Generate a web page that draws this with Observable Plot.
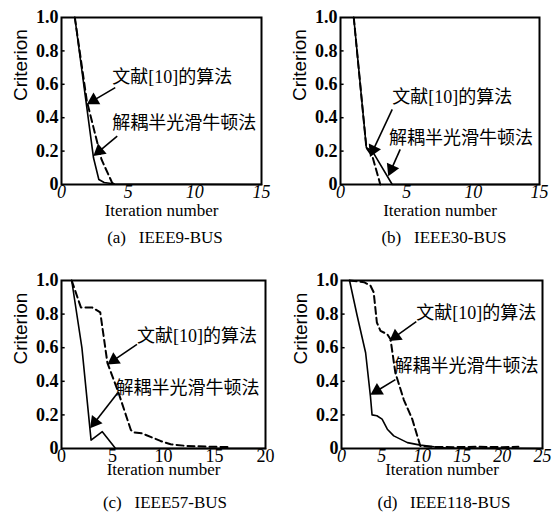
<!DOCTYPE html>
<html><head><meta charset="utf-8">
<script src="https://cdn.jsdelivr.net/npm/d3@7"></script>
<script src="https://cdn.jsdelivr.net/npm/@observablehq/plot@0.6"></script>
<style>
body{margin:0;background:#fff;}
#wrap{position:relative;width:558px;height:513px;overflow:hidden;}
.panel{position:absolute;}
.cap{position:absolute;width:200px;text-align:center;font-family:"Liberation Serif",serif;font-size:17px;white-space:pre;color:#000;line-height:20px;}
</style>
</head><body>
<div id="wrap"></div>
<script>
// ---- data ----
const yTicks = [0, 0.2, 0.4, 0.6, 0.8, 1.0];
const labelRef = "文献[10]的算法";
const labelDec = "解耦半光滑牛顿法";

// (a) IEEE9-BUS
const a9Dec = [[1,1],[1.8,0.52],[2.4,0.16],[2.8,0.03],[3.2,0.012],[4,0.003],[15,0]];
const a9Ref = [[1,1],[1.9,0.5],[3.0,0.15],[3.8,0.01],[4,0]];
// (b) IEEE30-BUS
const b30Dec = [[1,1],[1.95,0.22],[2.4,0.2],[3.9,0],[15,0]];
const b30Ref = [[1,1],[1.95,0.22],[2.4,0.17],[3.0,0]];
// (c) IEEE57-BUS
const c57Dec = [[1,1],[2,0.6],[2.9,0.05],[4,0.1],[5.3,0],[20,0]];
const c57Ref = [[1,1],[1.9,0.84],[3.0,0.84],[3.8,0.81],[4.5,0.51],[5.6,0.33],[6.8,0.11],[7.1,0.095],[7.9,0.09],[9.7,0.045],[10.7,0.025],[12.3,0.015],[15,0.01],[16.5,0.008]];
// (d) IEEE118-BUS
const d118Dec = [[1,1],[1.95,0.79],[3.0,0.57],[3.6,0.31],[3.8,0.2],[4.4,0.195],[5.05,0.175],[5.7,0.115],[6.5,0.075],[8.2,0.035],[9.8,0.02],[11.5,0.01],[13,0.003],[25,0]];
const d118Ref = [[1,1],[2.8,0.99],[3.6,0.97],[4.0,0.93],[4.4,0.75],[4.85,0.70],[5.7,0.68],[6.1,0.65],[6.7,0.45],[7.75,0.29],[8.8,0.175],[9.8,0.015],[11,0.01],[14,0.008],[17,0.01],[20,0.008],[22,0.01]];

// annotations: text anchor (tx,ty), arrow start (sx,sy), arrow tip (ex,ey)
const a9Notes = [
  {label: labelRef, tx:3.8, ty:0.64, sx:4.03, sy:0.58, ex:1.9, ey:0.48},
  {label: labelDec, tx:3.8, ty:0.365, sx:4.18, sy:0.29, ex:2.39, ey:0.17}
];
const b30Notes = [
  {label: labelRef, tx:3.9, ty:0.52, sx:3.9, sy:0.45, ex:2.22, ey:0.165},
  {label: labelDec, tx:3.66, ty:0.28, sx:4.5, sy:0.21, ex:3.6, ey:0.05}
];
const c57Notes = [
  {label: labelRef, tx:7.4, ty:0.67, sx:7.4, sy:0.62, ex:4.5, ey:0.5},
  {label: labelDec, tx:5.3, ty:0.36, sx:5.5, sy:0.33, ex:2.8, ey:0.12}
];
const d118Notes = [
  {label: labelRef, tx:9.3, ty:0.805, sx:9.3, sy:0.755, ex:5.95, ey:0.64},
  {label: labelDec, tx:6.6, ty:0.49, sx:6.7, sy:0.41, ex:3.6, ey:0.32}
];

const panels = [
  {cap:"(a)   IEEE9-BUS", xMax:15, xTicks:[0,5,10,15], dec:a9Dec, ref:a9Ref, notes:a9Notes,
   left:0, top:0, mt:17, mb:38, ml:61, mr:18, xlabDy:31, tickPad:1, italic:true, capY:228},
  {cap:"(b)   IEEE30-BUS", xMax:15, xTicks:[0,5,10,15], dec:b30Dec, ref:b30Ref, notes:b30Notes,
   left:279, top:0, mt:17, mb:38, ml:61, mr:19, xlabDy:31, tickPad:1, italic:true, capY:228},
  {cap:"(c)   IEEE57-BUS", xMax:20, xTicks:[0,5,10,15,20], dec:c57Dec, ref:c57Ref, notes:c57Notes,
   left:0, top:256, mt:24, mb:30, ml:61, mr:14, xlabDy:26, tickPad:1, italic:false, capY:237},
  {cap:"(d)   IEEE118-BUS", xMax:25, xTicks:[0,5,10,15,20,25], dec:d118Dec, ref:d118Ref, notes:d118Notes,
   left:279, top:256, mt:24, mb:30, ml:62, mr:16, xlabDy:26, tickPad:1, italic:true, capY:237}
];

const W = 279, H = 222;
const serif = '"Liberation Serif","Times New Roman",serif';
const cjk = '"Liberation Serif","Noto Sans CJK SC",serif';
const wrap = document.getElementById("wrap");
const headR = 5, headOff = 2 * 0.7776 * headR;

for (const p of panels) {
  const xs = d3.scaleLinear([0, p.xMax], [p.ml, W - p.mr]);
  const ys = d3.scaleLinear([0, 1], [H - p.mb, p.mt]);
  const heads = p.notes.map(n => {
    const x0 = xs(n.sx), y0 = ys(n.sy), x1 = xs(n.ex), y1 = ys(n.ey);
    const dx = x1 - x0, dy = y1 - y0, L = Math.hypot(dx, dy);
    const cx = x1 - dx / L * headOff, cy = y1 - dy / L * headOff;
    return {x: xs.invert(cx), y: ys.invert(cy), rot: Math.atan2(dx, -dy) * 180 / Math.PI, sx: n.sx, sy: n.sy};
  });
  const chart = Plot.plot({
    width: W, height: H,
    marginTop: p.mt, marginBottom: p.mb, marginLeft: p.ml, marginRight: p.mr,
    style: {fontFamily: serif, background: "white", color: "black", overflow: "visible"},
    x: {domain: [0, p.xMax]},
    y: {domain: [0, 1]},
    marks: [
      Plot.ruleY(yTicks.slice(1, -1), {x1: 0, x2: p.xMax * 0.018, stroke: "black", strokeWidth: 1.5}),
      Plot.line(p.ref, {x: d => d[0], y: d => d[1], stroke: "black", strokeWidth: 2, strokeDasharray: "7,4"}),
      Plot.line(p.dec, {x: d => d[0], y: d => d[1], stroke: "black", strokeWidth: 1.6}),
      Plot.link(heads, {x1: "sx", y1: "sy", x2: "x", y2: "y", stroke: "black", strokeWidth: 1.6}),
      Plot.dot(heads, {x: "x", y: "y", symbol: "triangle", r: headR, fill: "black", stroke: "none", rotate: "rot"}),
      Plot.text(p.notes, {x: "tx", y: "ty", text: "label", textAnchor: "start", fontSize: 18, fontFamily: cjk, fill: "black"}),
      Plot.axisY(yTicks, {tickSize: 0, tickPadding: 3, label: null, fontSize: 18, fontWeight: "bold",
        tickFormat: d => d === 0 ? "0" : d.toFixed(1)}),
      Plot.axisX(p.xTicks, {tickSize: 0, tickPadding: p.tickPad, label: null, fontSize: 18,
        fontStyle: p.italic ? "italic" : "normal"}),
      Plot.text(["Iteration number"], {frameAnchor: "bottom", dy: p.xlabDy, text: d => d, fontSize: 17, fontFamily: serif, fill: "black"}),
      Plot.text(["Criterion"], {frameAnchor: "left", dx: -41, rotate: -90, text: d => d, fontSize: 19,
        fontFamily: '"Liberation Sans",Arial,sans-serif', fill: "black"}),
      Plot.frame({stroke: "black", strokeWidth: 2})
    ]
  });
  const div = document.createElement("div");
  div.className = "panel";
  div.style.left = p.left + "px";
  div.style.top = p.top + "px";
  div.appendChild(chart);
  const cap = document.createElement("div");
  cap.className = "cap";
  cap.textContent = p.cap;
  cap.style.left = (165 - 100) + "px";
  cap.style.top = p.capY + "px";
  div.appendChild(cap);
  wrap.appendChild(div);
}
</script>
</body></html>
